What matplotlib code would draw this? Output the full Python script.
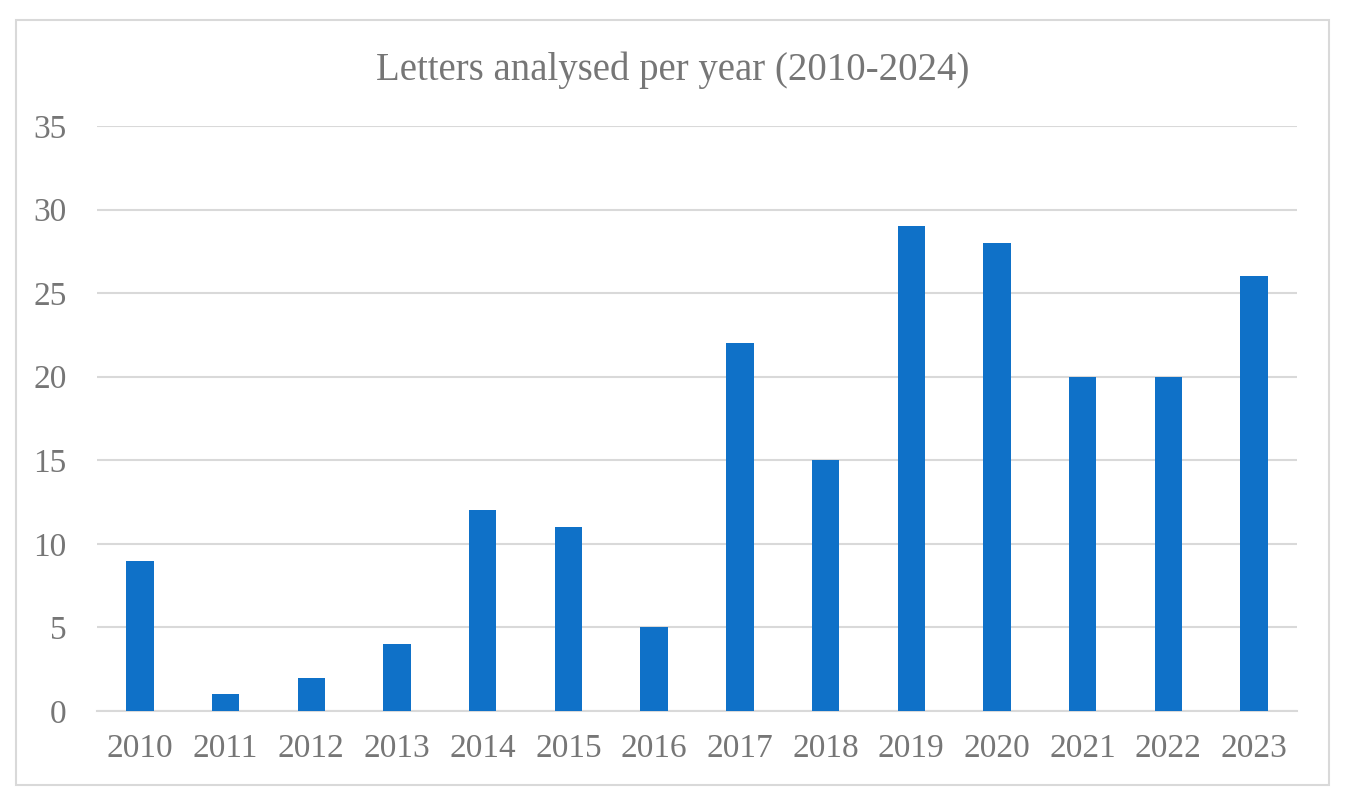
import numpy as np
import matplotlib.pyplot as plt
from matplotlib.patches import Rectangle

years = ['2010', '2011', '2012', '2013', '2014', '2015', '2016',
         '2017', '2018', '2019', '2020', '2021', '2022', '2023']
letters = [9, 1, 2, 4, 12, 11, 5, 22, 15, 29, 28, 20, 20, 26]

plt.rcParams['font.family'] = ['Liberation Serif', 'DejaVu Serif']
text_color = '#767676'
grid_color = '#d9d9d9'

fig = plt.figure(figsize=(13.45, 7.96), dpi=100)
ax = fig.add_axes([0.0721, 0.1068, 0.8922, 0.7349])

x = np.arange(len(years))
ax.bar(x, letters, width=0.32, color='#0F71C8', zorder=3)

ax.set_xlim(-0.5, len(years) - 0.5)
ax.set_ylim(0, 35)
ax.set_yticks(np.arange(0, 36, 5))
ax.set_xticks(x)
ax.set_xticklabels(years)
ax.yaxis.grid(True, color=grid_color, linewidth=1.5, zorder=0)
ax.tick_params(axis='both', length=0, labelsize=24, colors=text_color)
ax.tick_params(axis='y', pad=22)
ax.tick_params(axis='x', pad=16)
for side in ['top', 'right', 'left']:
    ax.spines[side].set_visible(False)
ax.spines['bottom'].set_color(grid_color)
ax.spines['bottom'].set_linewidth(1.5)

fig.text(0.5, 0.912, 'Letters analysed per year (2010-2024)', ha='center',
         va='center', fontsize=28, color=text_color)

# chart border
fig.patches.append(Rectangle((16 / 1345, 11 / 796), 1313 / 1345, 765 / 796,
                             transform=fig.transFigure, fill=False,
                             edgecolor=grid_color, linewidth=1.5))

fig.savefig('out.png', dpi=100)
